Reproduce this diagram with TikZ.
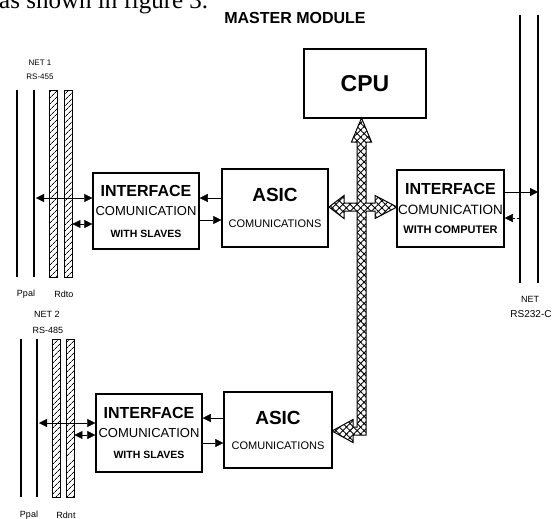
\documentclass[tikz,border=0pt]{standalone}
\usepackage{fontspec}
\setmainfont{Liberation Sans}
\newfontfamily\textserif{Liberation Serif}
\usetikzlibrary{arrows.meta,patterns.meta}
\newcommand{\setfs}[1]{\fontsize{#1}{#1}\selectfont}
\begin{document}
\begin{tikzpicture}[x=1pt,y=-1pt,
    box/.style={draw,line width=1.5pt,inner sep=0pt,align=center},
    wire/.style={line width=2pt},
    hatchbar/.style={draw,line width=0.8pt,pattern={Lines[angle=45,distance=4pt,line width=0.7pt]},inner sep=0pt,minimum width=8pt},
    busfill/.style={draw,line width=1pt,pattern={Lines[angle=45,distance=5pt,line width=0.9pt]},
        preaction={pattern={Lines[angle=-45,distance=5pt,line width=0.9pt]}}},
    arr/.style={thin,-{Triangle[length=8pt,width=8pt]}},
    both/.style={thin,{Triangle[length=8pt,width=8pt]}-{Triangle[length=8pt,width=8pt]}},
    lbl/.style={font=\setfs{9}}]
    \useasboundingbox (0,0) rectangle (554,519);
    % page text and title
    \node[anchor=base west,inner sep=0pt] (page) at (-1,9) {\textserif\setfs{25}as shown in figure 3.};
    \node (title) at (295,18) {\bfseries\setfs{16}MASTER MODULE};
    % modules
    \node[box,minimum width=122pt,minimum height=69pt] (cpu) at (365,83.5) {\bfseries\setfs{23}CPU};
    \node[box,minimum width=106pt,minimum height=78pt] (asic1) at (275,208) {\bfseries\setfs{19}ASIC\\[14pt]\setfs{11}COMUNICATIONS};
    \node[box,minimum width=107pt,minimum height=77pt] (ifc) at (450.5,208.5) {\bfseries\setfs{16}INTERFACE\\[8pt]\mdseries\setfs{13.5}COMUNICATION\\[7pt]\bfseries\setfs{11}WITH COMPUTER};
    \node[box,minimum width=106pt,minimum height=76pt] (ifs1) at (146,211) {\bfseries\setfs{16}INTERFACE\\[7pt]\mdseries\setfs{13}COMUNICATION\\[10pt]\bfseries\setfs{10.5}WITH SLAVES};
    \node[box,minimum width=106pt,minimum height=78pt] (ifs2) at (149,433) {\bfseries\setfs{16}INTERFACE\\[7pt]\mdseries\setfs{13}COMUNICATION\\[9pt]\bfseries\setfs{10.5}WITH SLAVES};
    \node[box,minimum width=108pt,minimum height=76pt] (asic2) at (278,430) {\bfseries\setfs{19}ASIC\\[13pt]\setfs{11}COMUNICATIONS};
    % net 1
    \coordinate (n1pa) at (17,90); \coordinate (n1pb) at (34,90);
    \draw[wire] (n1pa) -- (17,277);
    \draw[wire] (n1pb) -- (34,277);
    \node[hatchbar,minimum height=187pt] (n1ra) at (53,183.5) {};
    \node[hatchbar,minimum height=187pt] (n1rb) at (68,183.5) {};
    \node[lbl,font=\setfs{8}] (net1) at (40,63) {NET 1};
    \node[lbl,font=\setfs{8}] (rs1) at (40,77) {RS-455};
    \node[lbl] (ppal1) at (26,294) {Ppal};
    \node[lbl] (rdto) at (64,294) {Rdto};
    % net 2
    \coordinate (n2pa) at (21,339); \coordinate (n2pb) at (37,339);
    \draw[wire] (n2pa) -- (21,497);
    \draw[wire] (n2pb) -- (37,497);
    \node[hatchbar,minimum height=158pt] (n2ra) at (56,418) {};
    \node[hatchbar,minimum height=158pt] (n2rb) at (70,418) {};
    \node[lbl] (net2) at (47,314) {NET 2};
    \node[lbl] (rs2) at (48,330) {RS-485};
    \node[lbl] (ppal2) at (29,515) {Ppal};
    \node[lbl] (rdnt) at (66,515) {Rdnt};
    % net rs232
    \coordinate (pca) at (520,15); \coordinate (pcb) at (538,15);
    \draw[wire] (pca) -- (520,283);
    \draw[wire] (pcb) -- (538,283);
    \node[lbl] (netc) at (530,299) {NET};
    \node[lbl,font=\setfs{10}] (rsc) at (531,314) {RS232-C};
    % connectors
    \draw[both,shorten >=2pt] (ifs1.west |- 0,198) -- (n1pb |- 0,198);
    \draw[both] (ifs1.west |- 0,224) -- (n1rb.east |- 0,224);
    \draw[arr] (asic1.west |- 0,198) -- (ifs1.east |- 0,198);
    \draw[arr] (ifs1.east |- 0,220) -- (asic1.west |- 0,220);
    \draw[arr] (ifc.east |- 0,192) -- (pcb |- 0,192);
    \draw[arr,densely dashed] (pca |- 0,218) -- (ifc.east |- 0,218);
    \draw[both,shorten >=2pt] (ifs2.west |- 0,423) -- (n2pb |- 0,423);
    \draw[both] (ifs2.west |- 0,435) -- (n2rb.east |- 0,435);
    \draw[arr] (asic2.west |- 0,418) -- (ifs2.east |- 0,418);
    \draw[arr] (ifs2.east |- 0,443) -- (asic2.west |- 0,443);
    % bus
    \draw[busfill] (361.5,118) -- (371.5,142) -- (366,142) -- (366,203) -- (375,203) -- (375,195.5) -- (397,207) -- (375,218.5) -- (375,211) -- (366,211) -- (366,435) -- (353,435) -- (353,442.5) -- (332,431) -- (353,419.5) -- (353,427) -- (357,427) -- (357,211) -- (344,211) -- (344,218.5) -- (329,207) -- (344,195.5) -- (344,203) -- (357,203) -- (357,142) -- (351.5,142) -- cycle;
\end{tikzpicture}
\end{document}
